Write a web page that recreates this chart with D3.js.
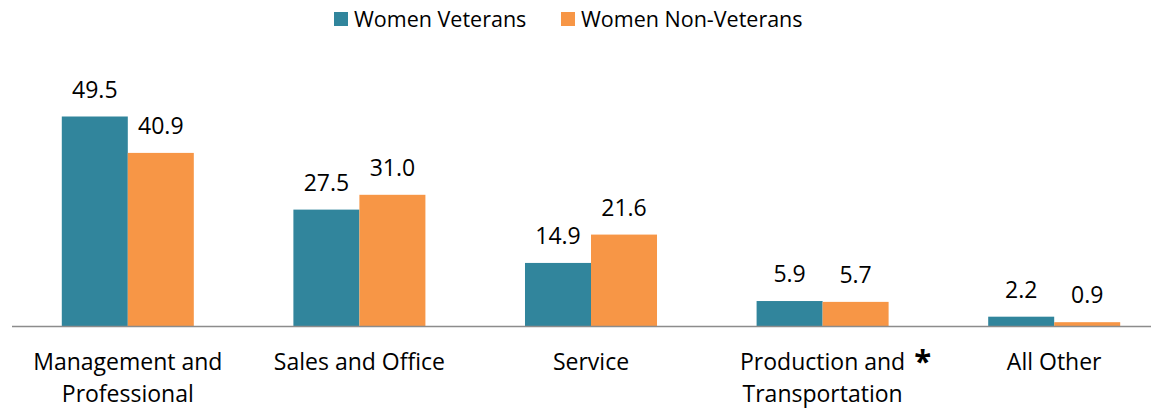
<!DOCTYPE html>
<html>
<head>
<meta charset="utf-8">
<script src="https://cdn.jsdelivr.net/npm/d3@7"></script>
<style>
  body { margin: 0; background: #fff; }
  text { font-family: "Open Sans", Lato, sans-serif; fill: #000; }
</style>
</head>
<body>
<div id="chart"></div>
<script>
// data
var categories = ["Management and Professional", "Sales and Office", "Service", "Production and Transportation", "All Other"];
var categoryLines = [["Management and", "Professional"], ["Sales and Office"], ["Service"], ["Production and", "Transportation"], ["All Other"]];
var veterans = [49.5, 27.5, 14.9, 5.9, 2.2];
var nonVeterans = [40.9, 31.0, 21.6, 5.7, 0.9];
var seriesNames = ["Women Veterans", "Women Non-Veterans"];
var colors = ["#31859c", "#f79646"];

var width = 1151, height = 408, baseY = 326;

var svg = d3.select("#chart").append("svg")
    .attr("width", width)
    .attr("height", height);

var x = d3.scaleBand()
    .domain(categories)
    .range([12, 1170])
    .paddingInner(0.43)
    .paddingOuter(0.215);

var x1 = d3.scaleBand()
    .domain(seriesNames)
    .range([0, x.bandwidth()]);

var y = d3.scaleLinear()
    .domain([0, 49.5])
    .range([baseY, 116.5]);

var rows = categories.map(function(c, i) {
  return { cat: c, vals: [veterans[i], nonVeterans[i]] };
});

var groups = svg.selectAll(".grp")
  .data(rows)
  .enter().append("g")
    .attr("transform", function(d) { return "translate(" + x(d.cat) + ",0)"; });

groups.selectAll("rect")
  .data(function(d) { return d.vals.map(function(v, j) { return { name: seriesNames[j], v: v, j: j }; }); })
  .enter().append("rect")
    .attr("x", function(d) { return x1(d.name); })
    .attr("y", function(d) { return y(d.v); })
    .attr("width", x1.bandwidth())
    .attr("height", function(d) { return baseY - y(d.v); })
    .attr("fill", function(d) { return colors[d.j]; });

groups.selectAll(".val")
  .data(function(d) { return d.vals.map(function(v, j) { return { name: seriesNames[j], v: v }; }); })
  .enter().append("text")
    .attr("x", function(d) { return x1(d.name) + x1.bandwidth() / 2; })
    .attr("y", function(d) { return y(d.v) - 19; })
    .attr("text-anchor", "middle")
    .style("font-size", "23px")
    .text(function(d) { return d.v.toFixed(1); });

// baseline
svg.append("line")
    .attr("x1", 12).attr("x2", width)
    .attr("y1", baseY + 0.5).attr("y2", baseY + 0.5)
    .attr("stroke", "#8c8c8c")
    .attr("stroke-width", 1.5);

// category labels
groups.each(function(d, i) {
  var t = d3.select(this).append("text")
    .attr("x", x.bandwidth() / 2)
    .attr("y", 370)
    .attr("text-anchor", "middle")
    .style("font-size", "23px");
  categoryLines[i].forEach(function(line, k) {
    t.append("tspan")
      .attr("x", x.bandwidth() / 2)
      .attr("dy", k === 0 ? 0 : 32)
      .text(line);
  });
});

// asterisk next to Production and Transportation
svg.append("text")
    .attr("x", x(categories[3]) + x.bandwidth() / 2 + 100)
    .attr("y", 372)
    .attr("text-anchor", "middle")
    .style("font-size", "31px")
    .style("font-weight", "bold")
    .text("*");

// legend
var legendX = [334, 561];
var legend = svg.selectAll(".leg")
  .data(seriesNames)
  .enter().append("g")
    .attr("transform", function(d, i) { return "translate(" + legendX[i] + ",0)"; });

legend.append("rect")
    .attr("x", 0).attr("y", 12)
    .attr("width", 14).attr("height", 14)
    .attr("fill", function(d, i) { return colors[i]; });

legend.append("text")
    .attr("x", 20)
    .attr("y", 27)
    .style("font-size", "21.5px")
    .text(function(d) { return d; });
</script>
</body>
</html>
